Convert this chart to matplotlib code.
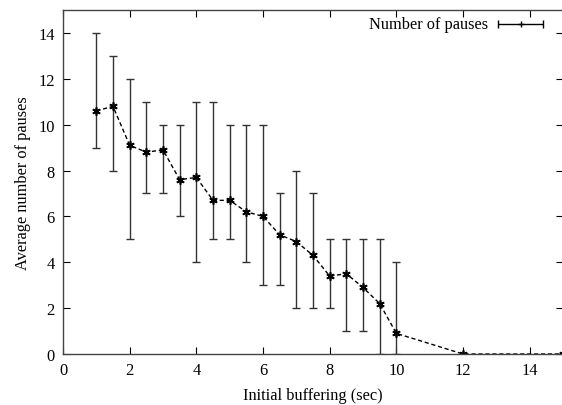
import matplotlib
matplotlib.use("Agg")
import matplotlib.pyplot as plt

plt.rcParams['font.family'] = ['Liberation Serif', 'DejaVu Serif']
plt.rcParams['font.size'] = 11.8

# initial buffering (sec) and average number of pauses
buffering = [1, 1.5, 2, 2.5, 3, 3.5, 4, 4.5, 5, 5.5, 6, 6.5, 7, 7.5, 8, 8.5, 9, 9.5, 10, 12, 15]
pauses = [10.6, 10.8, 9.1, 8.8, 8.9, 7.6, 7.7, 6.7, 6.7, 6.2, 6.0, 5.2, 4.9, 4.3, 3.4, 3.5, 2.9, 2.2, 0.9, 0, 0]
low = [9, 8, 5, 7, 7, 6, 4, 5, 5, 4, 3, 3, 2, 2, 2, 1, 1, 0, 0, 0, 0]
high = [14, 13, 12, 11, 10, 10, 11, 11, 10, 10, 10, 7, 8, 7, 5, 5, 5, 5, 4, 0, 0]

err = [[p - l for p, l in zip(pauses, low)], [h - p for p, h in zip(pauses, high)]]

fig = plt.figure(figsize=(5.62, 4.06), dpi=100)
ax = fig.add_axes([63 / 562, 1 - 355 / 406, 500 / 562, 344 / 406])

# error bars and the dashed line drawn separately to mimic gnuplot
ax.errorbar(buffering, pauses, yerr=err, fmt='none', ecolor='#333333',
            elinewidth=1.0, capsize=3, capthick=1.0, clip_on=True)
ax.plot(buffering, pauses, linestyle=(0, (3, 2)), color='black', linewidth=1.0,
        marker=(6, 2, 0), markersize=6, markeredgewidth=1.2)

ax.set_xlim(0, 15)
ax.set_ylim(0, 15)
ax.set_xticks(range(0, 15, 2))
ax.set_yticks(range(0, 15, 2))
ax.tick_params(direction='in', length=5, top=True, right=True, width=0.8, pad=6)
for s in ax.spines.values():
    s.set_linewidth(1.0)
    s.set_color('#444444')

ax.set_xlabel('Initial buffering (sec)', labelpad=6)
ax.set_ylabel('Average number of pauses', labelpad=5)

# gnuplot-style key in the top right corner
ax.text(488 / 562, 1 - 25 / 406, 'Number of pauses', transform=fig.transFigure,
        ha='right', va='center')
kx = [(498 - 63) / 500 * 15, (543 - 63) / 500 * 15]
ky = 15 - (25 - 11) / 344 * 15
ax.errorbar([(kx[0] + kx[1]) / 2], [ky], xerr=[[(kx[1] - kx[0]) / 2], [(kx[1] - kx[0]) / 2]],
            fmt='+', color='black', ecolor='black', markersize=4, elinewidth=1.0,
            capsize=3, capthick=1.0)

fig.savefig('out.png', dpi=100)
